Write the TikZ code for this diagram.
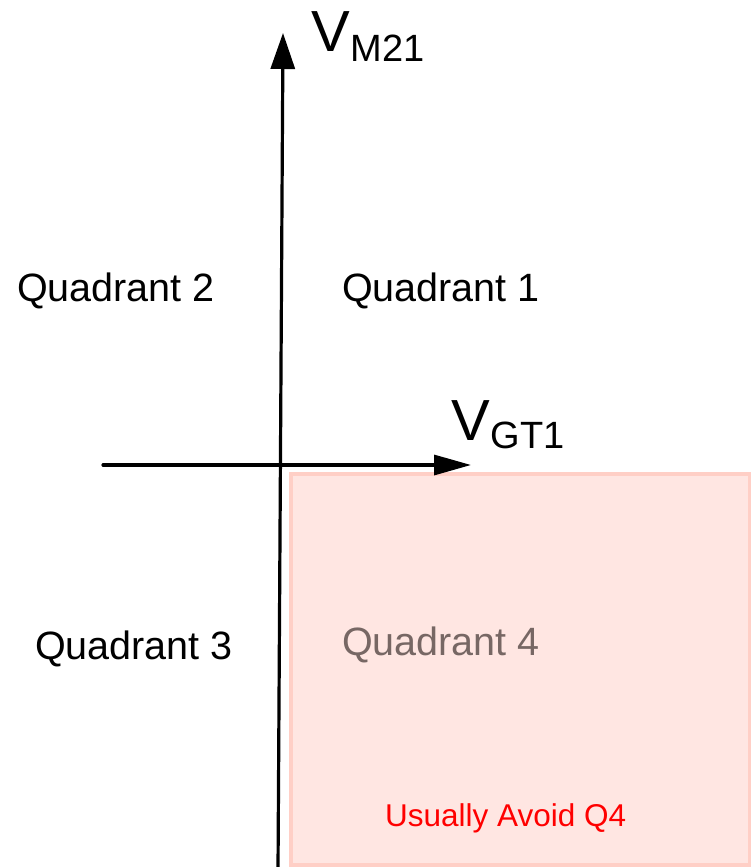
\documentclass[tikz,border=0pt]{standalone}
\usepackage{fontspec}
\setmainfont{Liberation Sans}
\usetikzlibrary{arrows.meta}
\definecolor{qfill}{HTML}{FFE6E2}
\definecolor{qline}{HTML}{FFCFC6}
\definecolor{qgray}{HTML}{776764}
\definecolor{qred}{HTML}{FF0000}
\tikzset{
  axis/.style={line width=3.2pt, line cap=round},
  qlabel/.style={anchor=base west, inner sep=0pt, font=\fontsize{39.5}{39.5}\selectfont},
}
\begin{document}
\begin{tikzpicture}[x=1pt,y=-1pt]
\useasboundingbox (0,0) rectangle (751,867);
% pink region
\draw[fill=qfill, draw=qline, line width=4pt] (291,474) rectangle (750,865);
% axes
\coordinate (vbot) at (278,870);
\coordinate (vtop) at (283,33);
\coordinate (hleft) at (103,465);
\coordinate (hright) at (471,465);
\draw[axis, -{Triangle[length=36pt,width=24pt]}] (vbot) -- (vtop);
\draw[axis, -{Triangle[length=37pt,width=20pt]}] (hleft) -- (hright);
% axis labels
\node[anchor=base west, inner sep=0pt, font=\fontsize{58}{58}\selectfont] (vm) at (311,52)
  {V\kern1pt\raisebox{-10pt}{\fontsize{38}{38}\selectfont M21}};
\node[anchor=base west, inner sep=0pt, font=\fontsize{58}{58}\selectfont] (vg) at (451,440)
  {V\kern1pt\raisebox{-8pt}{\fontsize{38}{38}\selectfont GT1}};
% quadrant labels
\node[qlabel] (q2) at (17,301) {Quadrant 2};
\node[qlabel] (q1) at (342,301) {Quadrant 1};
\node[qlabel] (q3) at (35,659) {Quadrant 3};
\node[qlabel, text=qgray] (q4) at (342,655) {Quadrant 4};
\node[anchor=base west, inner sep=0pt, text=qred, font=\fontsize{31.5}{31.5}\selectfont] (avoid) at (385,826) {Usually Avoid Q4};
\end{tikzpicture}
\end{document}
